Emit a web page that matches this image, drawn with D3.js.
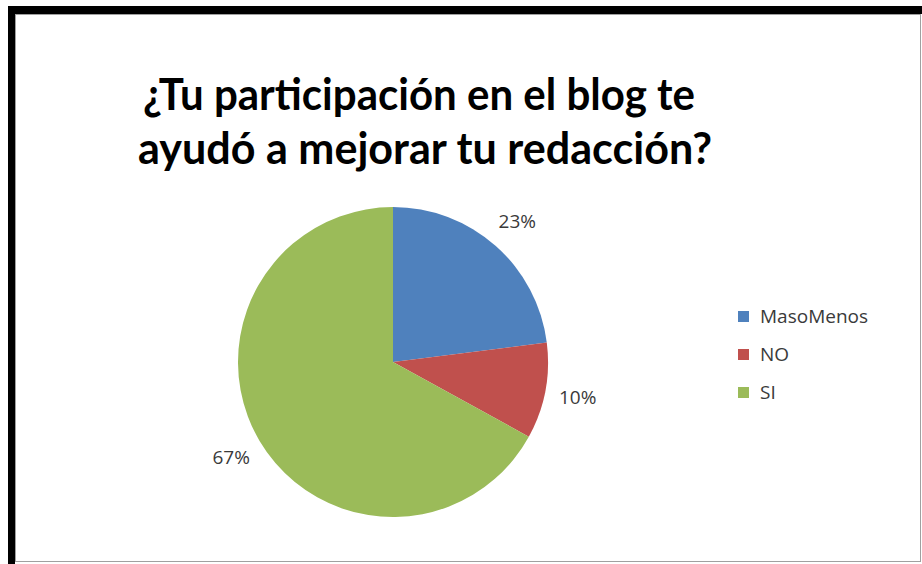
<!DOCTYPE html>
<html>
<head>
<meta charset="utf-8">
<script src="https://cdn.jsdelivr.net/npm/d3@7"></script>
<style>
html,body{margin:0;padding:0;background:#fff;}
svg{display:block;}
</style>
</head>
<body>
<svg id="chart" width="922" height="564"></svg>
<script>
const categories = ["MasoMenos", "NO", "SI"];
const values = [23, 10, 67];
const labels = ["23%", "10%", "67%"];
const colors = ["#4F81BD", "#C0504D", "#9BBB59"];
const titleLines = ["¿Tu participación en el blog te", "ayudó a mejorar tu redacción?"];

const svg = d3.select("#chart");
// frame
svg.append("rect").attr("x",0).attr("y",0).attr("width",922).attr("height",564).attr("fill","#fff");
svg.append("rect").attr("x",15.5).attr("y",14.5).attr("width",905).attr("height",547)
  .attr("fill","none").attr("stroke","#a0a0a0").attr("stroke-width",1);
svg.append("rect").attr("x",8).attr("y",6).attr("width",914).attr("height",8).attr("fill","#000");
svg.append("rect").attr("x",8).attr("y",6).attr("width",7).attr("height",558).attr("fill","#000");

// title
const title = svg.append("text").attr("text-anchor","middle")
  .attr("font-family","Lato, 'Open Sans', sans-serif").attr("font-weight","bold")
  .attr("font-size",43).attr("fill","#000");
title.append("tspan").attr("x",419).attr("y",110).text(titleLines[0])
  .attr("textLength",552).attr("lengthAdjust","spacingAndGlyphs");
title.append("tspan").attr("x",425).attr("y",164).text(titleLines[1])
  .attr("textLength",574).attr("lengthAdjust","spacingAndGlyphs");

// pie
const cx = 393, cy = 362, r = 155;
const pie = d3.pie().sort(null).value(d => d);
const arcs = pie(values);
const arc = d3.arc().innerRadius(0).outerRadius(r);
const labelArc = d3.arc().innerRadius(188).outerRadius(188);
const g = svg.append("g").attr("transform",`translate(${cx},${cy})`);
g.selectAll("path").data(arcs).enter().append("path")
  .attr("d",arc).attr("fill",(d,i)=>colors[i]);
g.selectAll("text").data(arcs).enter().append("text")
  .attr("transform",d=>`translate(${labelArc.centroid(d)})`)
  .attr("text-anchor","middle").attr("dy","0.35em")
  .attr("font-family","'Open Sans', Lato, sans-serif").attr("font-size",19)
  .attr("fill","#3a3a3a").text((d,i)=>labels[i]);

// legend
const ly = d3.scalePoint().domain(categories).range([316,392]);
const lg = svg.append("g");
categories.forEach((c,i)=>{
  lg.append("rect").attr("x",738).attr("y",ly(c)-5).attr("width",11).attr("height",11).attr("fill",colors[i]);
  lg.append("text").attr("x",760).attr("y",ly(c)).attr("dy","0.35em")
    .attr("font-family","'Open Sans', Lato, sans-serif").attr("font-size",19)
    .attr("fill","#3a3a3a").text(c);
});
</script>
</body>
</html>
